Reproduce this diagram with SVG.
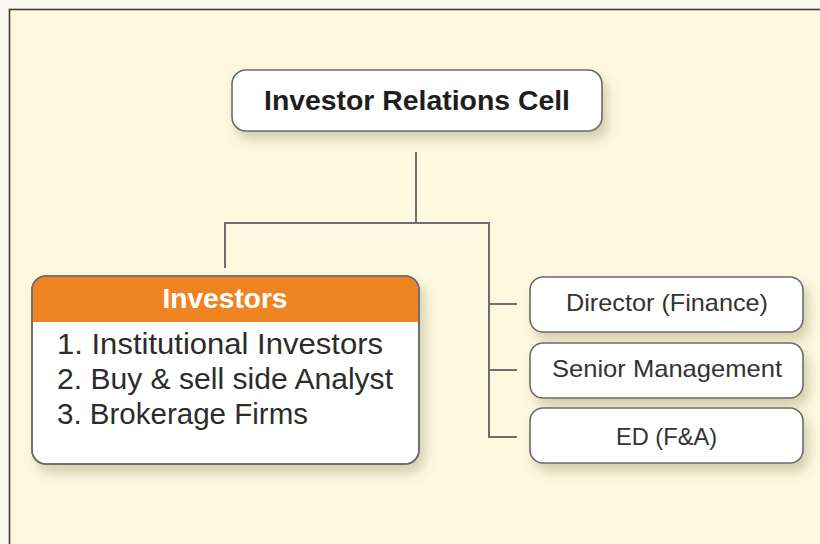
<svg xmlns="http://www.w3.org/2000/svg" width="820" height="544" viewBox="0 0 820 544">
<style>
.box{fill:#ffffff;stroke:#6b6b6b;stroke-width:1.6;filter:url(#sh)}
.con{fill:none;stroke:#6e6e6e;stroke-width:2}
.t{font-family:"Liberation Sans",Arial,sans-serif;fill:#2a2a2a}
.title{font-size:28px;font-weight:bold;text-anchor:middle;fill:#1e1e1e}
.hdr{font-size:28px;font-weight:bold;text-anchor:middle;fill:#ffffff}
.li{font-size:29px;fill:#2c2c2c}
.rt{font-size:24px;text-anchor:middle;fill:#333333}
</style>
<defs>
<filter id="sh" x="-20%" y="-30%" width="150%" height="180%">
<feDropShadow dx="5" dy="8" stdDeviation="6" flood-color="#8a7f55" flood-opacity="0.35"/>
</filter>
</defs>
<rect x="0" y="0" width="820" height="544" fill="#f8f6ef"/>
<rect x="9.5" y="9.5" width="840" height="560" fill="#fdf8df" stroke="#3f3f3f" stroke-width="1.6"/>
<g id="connectors">
<path class="con" d="M416 152 V223 M225 268 V223 H489 V437 H517 M489 304 H517 M489 370 H517"/>
</g>
<g id="node-irc">
<rect class="box" x="232" y="70" width="370" height="61" rx="14"/>
<text class="t title" x="417" y="110" textLength="306" lengthAdjust="spacingAndGlyphs">Investor Relations Cell</text>
</g>
<g id="node-investors">
<rect class="box" x="32" y="276" width="387" height="188" rx="14"/>
<path d="M32.8 322 V290 A13.2 13.2 0 0 1 46 276.8 H405 A13.2 13.2 0 0 1 418.2 290 V322 Z" fill="#f08423"/>
<rect x="32" y="276" width="387" height="188" rx="14" fill="none" stroke="#6b6b6b" stroke-width="1.6"/>
<text class="t hdr" x="225" y="308" textLength="125" lengthAdjust="spacingAndGlyphs">Investors</text>
<text class="t li" x="57" y="354" textLength="326" lengthAdjust="spacingAndGlyphs">1. Institutional Investors</text>
<text class="t li" x="57" y="389" textLength="336" lengthAdjust="spacingAndGlyphs">2. Buy &amp; sell side Analyst</text>
<text class="t li" x="57" y="424" textLength="251" lengthAdjust="spacingAndGlyphs">3. Brokerage Firms</text>
</g>
<g id="node-director">
<rect class="box" x="530" y="277" width="273" height="55" rx="13"/>
<text class="t rt" x="667" y="311" textLength="202" lengthAdjust="spacingAndGlyphs">Director (Finance)</text>
</g>
<g id="node-senior">
<rect class="box" x="530" y="343" width="273" height="55" rx="13"/>
<text class="t rt" x="667" y="377" textLength="230" lengthAdjust="spacingAndGlyphs">Senior Management</text>
</g>
<g id="node-ed">
<rect class="box" x="530" y="408" width="273" height="55" rx="13"/>
<text class="t rt" x="666.5" y="445" textLength="101" lengthAdjust="spacingAndGlyphs">ED (F&amp;A)</text>
</g>
</svg>
